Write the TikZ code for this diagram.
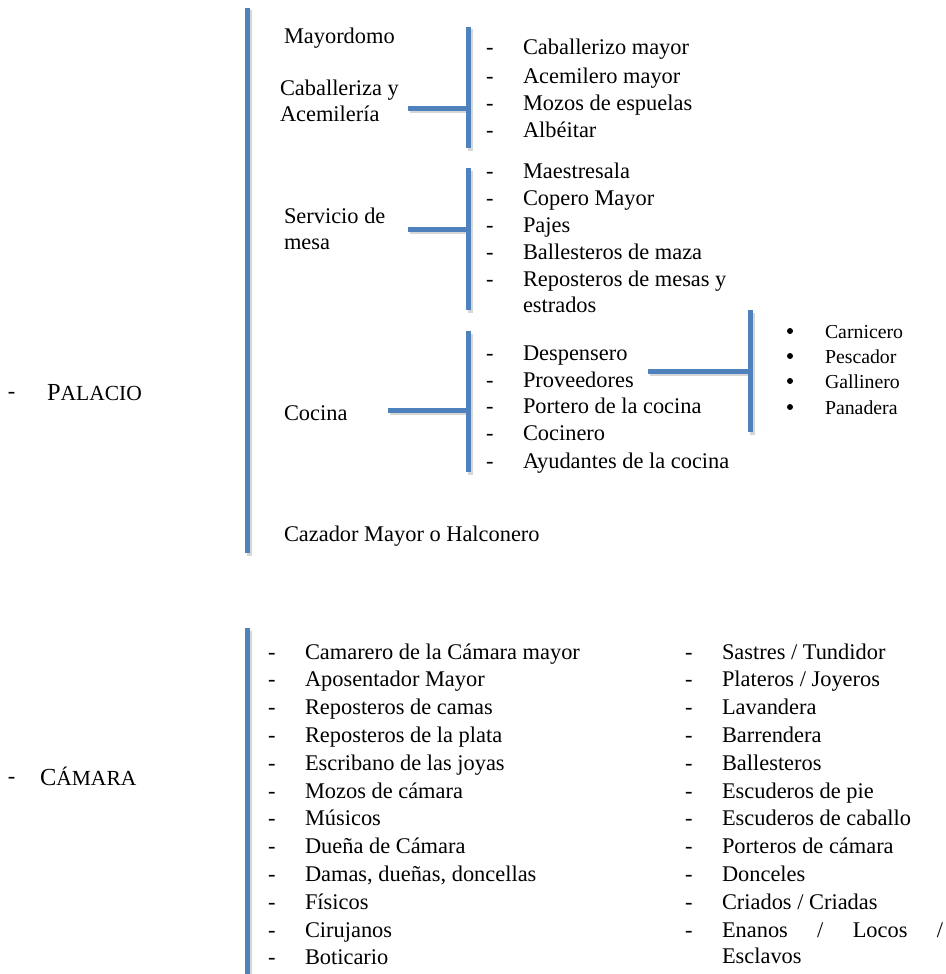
\documentclass[tikz,border=0pt]{standalone}
\usepackage{fontspec}
\setmainfont{Liberation Serif}
\definecolor{barblue}{HTML}{4F81BD}
\tikzset{
  bar/.style={line width=5pt, draw=barblue},
  barshadow/.style={line width=5pt, draw=black, opacity=0.16},
  txt/.style={anchor=base west, inner sep=0pt, outer sep=0pt,
    font=\fontsize{22.4}{26}\selectfont},
  small/.style={anchor=base west, inner sep=0pt, outer sep=0pt,
    font=\fontsize{19.8}{24}\selectfont},
  dot/.style={circle, fill=black, inner sep=0pt, minimum size=6pt},
}
% a blue rule between two named points, with a soft shadow below right
\newcommand\blueRule[2]{%
  \draw[barshadow] ([shift={(2,2.5)}]#1) -- ([shift={(2,2.5)}]#2);
  \draw[bar] (#1) -- (#2);}
% fake small capitals
\newcommand\fakesc[2]{{\fontsize{24.5}{28}\selectfont #1}{\fontsize{21.5}{24}\selectfont #2}}
\begin{document}
\begin{tikzpicture}[x=1pt,y=-1pt]
\useasboundingbox (0,0) rectangle (945,974);

% ---------------- PALACIO ----------------
\node[txt] (pdash) at (8,398) {-};
\node[txt] (palacio) at (47,400) {\fakesc{P}{ALACIO}};

\coordinate (pt) at (247,8);
\coordinate (pb) at (247,553);
\blueRule{pt}{pb}

\node[txt] (mayordomo) at (284,44) {Mayordomo};
\node[txt] (cab1) at (280,95) {Caballeriza y};
\node[txt] (cab2) at (280,121) {Acemilería};
\node[txt] (serv1) at (284,223) {Servicio de};
\node[txt] (serv2) at (284,249) {mesa};
\node[txt] (cocina) at (284,420) {Cocina};
\node[txt] (cazador) at (284,541) {Cazador Mayor o Halconero};

% bracket: caballeriza
\coordinate (b1t) at (468,27);
\coordinate (b1b) at (468,148);
\coordinate (b1l) at (408,108);
\coordinate (b1r) at (466,108);
\blueRule{b1l}{b1r}
\blueRule{b1t}{b1b}

% bracket: servicio de mesa
\coordinate (b2t) at (468,168);
\coordinate (b2b) at (468,310);
\coordinate (b2l) at (408,229);
\coordinate (b2r) at (466,229);
\blueRule{b2l}{b2r}
\blueRule{b2t}{b2b}

% bracket: cocina
\coordinate (b3t) at (468,331);
\coordinate (b3b) at (468,472);
\coordinate (b3l) at (388,410);
\coordinate (b3r) at (466,410);
\blueRule{b3l}{b3r}
\blueRule{b3t}{b3b}

% bracket: proveedores
\coordinate (b4t) at (750,310);
\coordinate (b4b) at (750,432);
\coordinate (b4l) at (648,371);
\coordinate (b4r) at (748,371);
\blueRule{b4l}{b4r}
\blueRule{b4t}{b4b}

\foreach \t/\y [count=\i] in {Caballerizo mayor/55, Acemilero mayor/83,
    Mozos de espuelas/110, Albéitar/137} {
  \node[txt] (ad\i) at (486,\y) {-};
  \node[txt] (a\i) at (523,\y) {\t};
}
\foreach \t/\y [count=\i] in {Maestresala/178, Copero Mayor/205, Pajes/232,
    Ballesteros de maza/259, Reposteros de mesas y/286, estrados/312} {
  \ifnum\i<6 \node[txt] (md\i) at (486,\y) {-};\fi
  \node[txt] (m\i) at (523,\y) {\t};
}
\foreach \t/\y [count=\i] in {Despensero/360, Proveedores/387,
    Portero de la cocina/413, Cocinero/440, Ayudantes de la cocina/468} {
  \node[txt] (cd\i) at (486,\y) {-};
  \node[txt] (c\i) at (523,\y) {\t};
}
\foreach \t/\y [count=\i] in {Carnicero/338, Pescador/363, Gallinero/388,
    Panadera/414} {
  \node[dot] (sb\i) at (790,\y-7) {};
  \node[small] (s\i) at (825,\y) {\t};
}

% ---------------- CÁMARA ----------------
\node[txt] (cdash) at (8,783) {-};
\node[txt] (camara) at (40,785) {\fakesc{C}{ÁMARA}};

\coordinate (ct) at (247,628);
\coordinate (cb) at (247,976);
\blueRule{ct}{cb}

\foreach \t [count=\i] in {Camarero de la Cámara mayor, Aposentador Mayor,
    Reposteros de camas, Reposteros de la plata, Escribano de las joyas,
    Mozos de cámara, Músicos, Dueña de Cámara, {Damas, dueñas, doncellas},
    Físicos, Cirujanos, Boticario} {
  \pgfmathsetmacro\yy{659+27.8*(\i-1)}
  \node[txt] (ld\i) at (268,\yy) {-};
  \node[txt] (l\i) at (305,\yy) {\t};
}
\foreach \t [count=\i] in {Sastres / Tundidor, Plateros / Joyeros, Lavandera,
    Barrendera, Ballesteros, Escuderos de pie, Escuderos de caballo,
    Porteros de cámara, Donceles, Criados / Criadas} {
  \pgfmathsetmacro\yy{659+27.8*(\i-1)}
  \node[txt] (rd\i) at (685,\yy) {-};
  \node[txt] (r\i) at (722,\yy) {\t};
}
\node[txt] (rd11) at (685,937) {-};
\node[txt] (r11) at (722,937) {\makebox[221pt][s]{Enanos / Locos /}};
\node[txt] (r12) at (722,963) {Esclavos};

\end{tikzpicture}
\end{document}
